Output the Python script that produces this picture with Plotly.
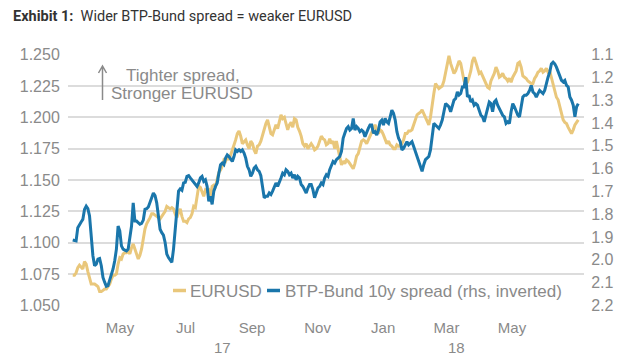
import pandas as pd
import plotly.graph_objects as go

# ---- data ----
start_date = "2017-03-18"
end_date = "2018-07-01 16:00"

eurusd = [
    1.074, 1.074, 1.076, 1.080, 1.082, 1.080, 1.079, 1.085, 1.083, 1.077,
    1.071, 1.067, 1.067, 1.067, 1.066, 1.065, 1.061, 1.061, 1.062, 1.063,
    1.063, 1.065, 1.067, 1.071, 1.074, 1.074, 1.075, 1.083, 1.088, 1.087,
    1.091, 1.092, 1.092, 1.093, 1.091, 1.096, 1.099, 1.095, 1.091, 1.087,
    1.090, 1.095, 1.103, 1.111, 1.115, 1.117, 1.120, 1.123, 1.123, 1.122,
    1.121, 1.120, 1.119, 1.121, 1.123, 1.125, 1.129, 1.128, 1.127, 1.128,
    1.127, 1.123, 1.120, 1.124, 1.127, 1.121, 1.117, 1.117, 1.116, 1.119,
    1.120, 1.123, 1.129,
    1.128, 1.137, 1.145, 1.144, 1.140, 1.137, 1.142, 1.141, 1.142, 1.137,
    1.145, 1.146, 1.145, 1.150, 1.156, 1.158, 1.161, 1.166, 1.165, 1.169,
    1.166, 1.170, 1.175, 1.178, 1.182, 1.187, 1.189, 1.185, 1.179, 1.181,
    1.182, 1.178, 1.175, 1.181, 1.179, 1.174, 1.171, 1.177, 1.178, 1.181,
    1.186, 1.189, 1.195, 1.198, 1.192, 1.187, 1.186, 1.190, 1.194, 1.191,
    1.196, 1.202, 1.199, 1.200, 1.195, 1.190, 1.194, 1.196, 1.192, 1.199,
    1.198, 1.192, 1.189, 1.185, 1.179, 1.177, 1.179, 1.175, 1.177, 1.179,
    1.177, 1.174, 1.175, 1.177, 1.181, 1.185,
    1.183, 1.182, 1.178, 1.179, 1.183, 1.179, 1.181, 1.175, 1.181, 1.174,
    1.166, 1.162, 1.165, 1.163, 1.166, 1.165, 1.163, 1.161, 1.159, 1.163,
    1.169, 1.171, 1.177, 1.181, 1.182, 1.181, 1.179, 1.182, 1.186, 1.189,
    1.192, 1.194, 1.190, 1.187, 1.190, 1.189, 1.186, 1.183, 1.179, 1.181,
    1.178, 1.177, 1.175, 1.175, 1.178, 1.177, 1.177, 1.179, 1.182, 1.187,
    1.187, 1.189, 1.189, 1.190, 1.194, 1.198, 1.202, 1.203, 1.204, 1.206,
    1.203, 1.200, 1.196, 1.194, 1.200, 1.211, 1.219, 1.227, 1.225, 1.223,
    1.224, 1.225, 1.229, 1.235, 1.243, 1.249,
    1.243, 1.239, 1.235, 1.237, 1.241, 1.245, 1.243, 1.236, 1.229, 1.227,
    1.228, 1.232, 1.237, 1.245, 1.248, 1.244, 1.239, 1.235, 1.236, 1.233,
    1.229, 1.227, 1.224, 1.223, 1.229, 1.232, 1.235, 1.240, 1.237, 1.232,
    1.233, 1.235, 1.232, 1.231, 1.229, 1.231, 1.228, 1.232, 1.235, 1.237,
    1.243, 1.244, 1.240, 1.233, 1.232, 1.231, 1.229, 1.228, 1.227, 1.227,
    1.231, 1.233, 1.236, 1.237, 1.239, 1.236, 1.237, 1.239, 1.236, 1.237,
    1.232, 1.227, 1.220, 1.216, 1.214, 1.208, 1.203, 1.198, 1.196, 1.195,
    1.192, 1.189, 1.187, 1.190, 1.194, 1.196, 1.198,
]

btp_bund = [
    1.913, 1.914, 1.917, 1.859, 1.844, 1.834, 1.823, 1.779, 1.765, 1.776,
    1.808, 1.895, 1.982, 2.026, 2.019, 1.997, 1.994, 2.026, 2.077, 2.098,
    2.116, 2.113, 2.091, 2.069, 2.040, 2.004, 1.953, 1.852, 1.873, 1.939,
    1.953, 1.958, 1.961, 1.953, 1.910, 1.852, 1.750, 1.830, 1.830, 1.837,
    1.844, 1.840, 1.826, 1.779, 1.776, 1.768, 1.743, 1.728, 1.707, 1.718,
    1.750, 1.808, 1.866, 1.881, 1.892, 1.924, 1.975, 1.990, 2.000, 2.011,
    1.953, 1.866, 1.765, 1.699, 1.689, 1.695, 1.663, 1.660, 1.634, 1.631,
    1.641, 1.651, 1.660,
    1.670, 1.678, 1.663, 1.641, 1.634, 1.656, 1.649, 1.678, 1.743, 1.721,
    1.757, 1.699, 1.678, 1.663, 1.620, 1.583, 1.576, 1.583, 1.554, 1.540,
    1.547, 1.561, 1.569, 1.547, 1.518, 1.525, 1.518, 1.525, 1.518, 1.532,
    1.554, 1.590, 1.605, 1.634, 1.620, 1.598, 1.590, 1.605, 1.612, 1.631,
    1.692, 1.728, 1.721, 1.721, 1.707, 1.714, 1.699, 1.678, 1.663, 1.678,
    1.663, 1.641, 1.620, 1.627, 1.605, 1.612, 1.627, 1.620, 1.641, 1.627,
    1.649, 1.634, 1.641, 1.670, 1.678, 1.692, 1.707, 1.685, 1.670, 1.670,
    1.692, 1.728, 1.707, 1.685, 1.678, 1.663,
    1.670, 1.641, 1.627, 1.634, 1.605, 1.583, 1.569, 1.576, 1.561, 1.554,
    1.547, 1.525, 1.467, 1.445, 1.424, 1.416, 1.431, 1.424, 1.380, 1.431,
    1.416, 1.424, 1.438, 1.431, 1.438, 1.460, 1.438, 1.424, 1.409, 1.409,
    1.445, 1.438, 1.453, 1.431, 1.395, 1.387, 1.409, 1.380, 1.395, 1.402,
    1.373, 1.344, 1.358, 1.387, 1.438, 1.467, 1.482, 1.518, 1.511, 1.496,
    1.482, 1.496, 1.489, 1.482, 1.503, 1.525, 1.554, 1.576, 1.598, 1.612,
    1.583, 1.561, 1.554, 1.547, 1.518, 1.460, 1.402, 1.409, 1.416, 1.424,
    1.409, 1.387, 1.351, 1.315, 1.322, 1.329,
    1.351, 1.329, 1.300, 1.293, 1.264, 1.278, 1.271, 1.242, 1.242, 1.199,
    1.286, 1.278, 1.308, 1.300, 1.322, 1.315, 1.322, 1.344, 1.366, 1.373,
    1.395, 1.366, 1.329, 1.308, 1.315, 1.351, 1.308, 1.300, 1.322, 1.337,
    1.351, 1.366, 1.373, 1.402, 1.395, 1.402, 1.351, 1.315, 1.329, 1.344,
    1.366, 1.373, 1.329, 1.286, 1.278, 1.278, 1.271, 1.257, 1.235, 1.264,
    1.271, 1.286, 1.271, 1.257, 1.264, 1.271, 1.257, 1.220, 1.199, 1.177,
    1.141, 1.133, 1.141, 1.155, 1.177, 1.199, 1.213, 1.220, 1.213, 1.235,
    1.242, 1.286, 1.300, 1.322, 1.373, 1.329, 1.315,
]

dates = pd.date_range(start_date, end_date, periods=len(eurusd))

month_ticks = ["2017-05-01", "2017-07-01", "2017-09-01", "2017-11-01",
               "2018-01-01", "2018-03-01", "2018-05-01"]
month_labels = ["May", "Jul", "Sep", "Nov", "Jan", "Mar", "May"]
year_labels = ["17", "18"]
year_positions = ["2017-08-04", "2018-03-10"]

left_ticks = [1.050, 1.075, 1.100, 1.125, 1.150, 1.175, 1.200, 1.225, 1.250]
right_ticks = [1.1, 1.2, 1.3, 1.4, 1.5, 1.6, 1.7, 1.8, 1.9, 2.0, 2.1, 2.2]

series_names = ["EURUSD", "BTP-Bund 10y spread (rhs, inverted)"]

# ---- styles ----
YELLOW = "#E9C77B"
BLUE = "#1A76AB"
GREY = "#8a8a8a"
GRID = "#dcdcdc"
FONT = "Liberation Sans, Arial, sans-serif"

fig = go.Figure()
fig.add_trace(go.Scatter(x=dates, y=eurusd, name=series_names[0], mode="lines",
                         line=dict(color=YELLOW, width=3)))
fig.add_trace(go.Scatter(x=dates, y=btp_bund, name=series_names[1],
                         mode="lines", line=dict(color=BLUE, width=3), yaxis="y2"))

fig.update_layout(
    width=640, height=360,
    margin=dict(l=68, r=56, t=54, b=54, autoexpand=False),
    paper_bgcolor="white", plot_bgcolor="white",
    font=dict(family=FONT, color=GREY),
    showlegend=False,
    xaxis=dict(type="date", range=["2017-03-13 14:00", "2018-07-07"],
               tickvals=month_ticks, ticktext=month_labels, automargin=False,
               showgrid=False, zeroline=False, showline=False,
               ticks="outside", ticklen=8, tickcolor="rgba(0,0,0,0)",
               tickfont=dict(size=15, color=GREY)),
    yaxis=dict(range=[1.0495, 1.2505], tickvals=left_ticks, tickformat=".3f",
               showgrid=True, gridcolor=GRID, gridwidth=1.5, zeroline=False,
               automargin=False,
               showline=False, ticks="outside", ticklen=4, tickcolor="rgba(0,0,0,0)",
               tickfont=dict(size=16, color=GREY)),
    yaxis2=dict(overlaying="y", side="right", range=[2.2025, 1.0975],
                tickvals=right_ticks, tickformat=".1f", showgrid=False,
                automargin=False,
                zeroline=False, showline=False, ticks="outside", ticklen=3,
                tickcolor="rgba(0,0,0,0)", tickfont=dict(size=16, color=GREY)),
)

def px(xp):
    return (xp - 68) / 516

def py(yp):
    return (306 - yp) / 252

# title
fig.add_annotation(text="<b>Exhibit 1:</b>  Wider BTP-Bund spread = weaker EURUSD",
                   xref="paper", yref="paper", x=px(11), y=py(16),
                   xanchor="left", yanchor="middle", showarrow=False,
                   font=dict(family="Roboto, Liberation Sans, sans-serif", size=14.5, color="#333333"))

# note text
fig.add_annotation(text="Tighter spread,", xref="paper", yref="paper",
                   x=px(182.5), y=py(75), xanchor="center", yanchor="middle",
                   showarrow=False, font=dict(size=17, color=GREY))
fig.add_annotation(text="Stronger EURUSD", xref="paper", yref="paper",
                   x=px(181.5), y=py(93), xanchor="center", yanchor="middle",
                   showarrow=False, font=dict(size=17, color=GREY))

# arrow (decoration)
fig.add_shape(type="path", xref="paper", yref="paper",
              path=f"M {px(102.5)},{py(100)} L {px(102.5)},{py(66)} "
                   f"M {px(98.5)},{py(73)} L {px(102.5)},{py(66)} L {px(106.5)},{py(73)}",
              line=dict(color=GREY, width=1.5))

# legend (drawn as keys + text)
legend_items = [(series_names[0], YELLOW, 173, 188), (series_names[1], BLUE, 267, 283)]
for name, col, kx, tx in legend_items:
    fig.add_shape(type="line", xref="paper", yref="paper",
                  x0=px(kx), x1=px(kx + 13), y0=py(290.5), y1=py(290.5),
                  line=dict(color=col, width=3.5))
    fig.add_annotation(text=name, xref="paper", yref="paper", x=px(tx), y=py(291),
                       xanchor="left", yanchor="middle", showarrow=False,
                       font=dict(size=17, color=GREY))

# year labels
for lab, pos in zip(year_labels, year_positions):
    fig.add_annotation(text=lab, x=pos, xref="x", yref="paper", y=py(347),
                       xanchor="center", yanchor="middle", showarrow=False,
                       font=dict(size=15, color=GREY))

fig.write_html("out.html", config={"displayModeBar": False},
               post_script="document.body.style.margin='0px';")
